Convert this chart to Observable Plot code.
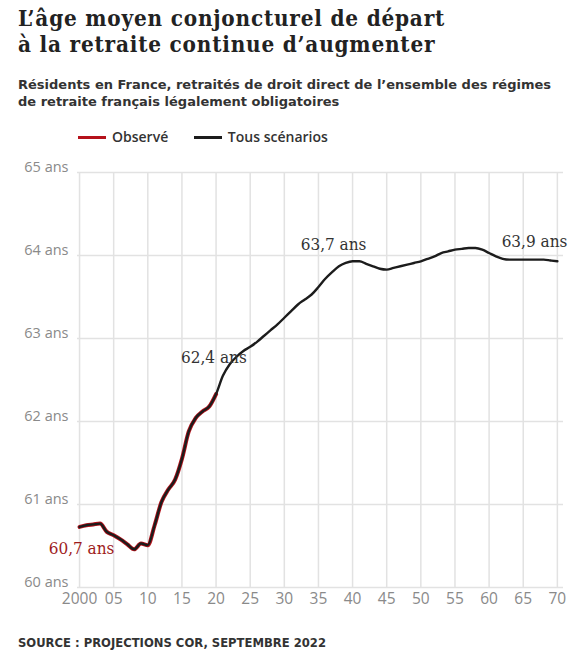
<!DOCTYPE html>
<html>
<head>
<meta charset="utf-8">
<script src="https://cdn.jsdelivr.net/npm/d3@7"></script>
<script src="https://cdn.jsdelivr.net/npm/@observablehq/plot@0.6"></script>
<style>
  body { margin: 0; background: #fff; }
  #page { position: relative; width: 575px; height: 659px; overflow: hidden; }
  .title { position: absolute; left: 18px; top: 5px; font: bold 22.3px/26px "DejaVu Serif Condensed", "DejaVu Serif", serif; letter-spacing: 0.8px; color: #222; }
  .subtitle { position: absolute; left: 18px; top: 76px; font: bold 13px/17px "DejaVu Sans", sans-serif; color: #333; }
  .legend { position: absolute; left: 78px; top: 128px; font: 600 14px/18px "Open Sans", sans-serif; color: #333; }
  .legend span.sw { display: inline-block; width: 28px; height: 3px; vertical-align: middle; margin-right: 6px; position: relative; top: -1px; }
  .legend span.item { margin-right: 22px; }
  #chart { position: absolute; left: 0; top: 150px; }
  .source { position: absolute; left: 18px; top: 636px; font: bold 11.6px/14px "DejaVu Sans", sans-serif; color: #333; }
</style>
</head>
<body>
<div id="page">
  <div class="title">L’âge moyen conjoncturel de départ<br>à la retraite continue d’augmenter</div>
  <div class="subtitle">Résidents en France, retraités de droit direct de l’ensemble des régimes<br>de retraite français légalement obligatoires</div>
  <div class="legend">
    <span class="item"><span class="sw" style="background:#b5121b"></span>Observé</span>
    <span class="item"><span class="sw" style="background:#1c1c1c"></span>Tous scénarios</span>
  </div>
  <div id="chart"></div>
  <div class="source">SOURCE : PROJECTIONS COR, SEPTEMBRE 2022</div>
</div>
<script>
// observé 2000-2020
const obsYears = d3.range(2000, 2021);
const obsValues = [60.73, 60.75, 60.76, 60.77, 60.67, 60.63, 60.58, 60.52, 60.46, 60.53,
  60.51, 60.75, 61.03, 61.18, 61.30, 61.55, 61.88, 62.04, 62.12, 62.18, 62.33];

// tous scénarios 2021-2070
const projYears = d3.range(2021, 2071);
const projValues = [62.55, 62.69, 62.78, 62.85, 62.90, 62.96, 63.03, 63.10, 63.17, 63.25,
  63.33, 63.41, 63.47, 63.53, 63.62, 63.72, 63.80, 63.87, 63.91, 63.93,
  63.93, 63.90, 63.87, 63.84, 63.83, 63.85, 63.87, 63.89, 63.91, 63.93,
  63.96, 63.99, 64.03, 64.05, 64.07, 64.08, 64.09, 64.09, 64.07, 64.03,
  63.99, 63.96, 63.95, 63.95, 63.95, 63.95, 63.95, 63.95, 63.94, 63.93];

const xTicks = d3.range(2000, 2071, 5);
const xTickLabels = ["2000", "05", "10", "15", "20", "25", "30", "35", "40", "45", "50", "55", "60", "65", "70"];
const yTicks = [60, 61, 62, 63, 64, 65];
const yTickLabels = ["60 ans", "61 ans", "62 ans", "63 ans", "64 ans", "65 ans"];

const annotYears = [2000, 2021, 2040, 2070];
const annotLabels = ["60,7 ans", "62,4 ans", "63,7 ans", "63,9 ans"];

const observed = obsYears.map((year, i) => ({year, value: obsValues[i]}));
const projected = projYears.map((year, i) => ({year, value: projValues[i]}));
const allYears = observed.concat(projected);
const valueAt = y => allYears.find(d => d.year === y).value;

// placement des étiquettes
const annotStyle = [
  {dx: 2, dy: 22, anchor: "middle", color: "#9e1b1b"},
  {dx: -9, dy: -18, anchor: "middle", color: "#333"},
  {dx: -19, dy: -17, anchor: "middle", color: "#333"},
  {dx: 10, dy: -20, anchor: "end", color: "#333"}
];

const annotMarks = annotYears.map((yr, i) => Plot.text([{year: yr, value: valueAt(yr), label: annotLabels[i]}], {
  x: "year", y: "value", text: "label",
  dx: annotStyle[i].dx, dy: annotStyle[i].dy,
  textAnchor: annotStyle[i].anchor,
  fill: annotStyle[i].color,
  fontSize: 17,
  fontFamily: "DejaVu Serif Condensed, DejaVu Serif, serif"
}));

const chart = Plot.plot({
  width: 575,
  height: 470,
  marginLeft: 77,
  marginRight: 12,
  marginTop: 22,
  marginBottom: 33,
  style: {fontFamily: "Open Sans, sans-serif", background: "transparent"},
  x: {domain: [1999.7, 2070.9], label: null},
  y: {domain: [60, 65], label: null},
  marks: [
    Plot.ruleY(yTicks, {stroke: "#e2e2e2", strokeWidth: 1.5}),
    Plot.ruleX(xTicks, {y1: yTicks[0], y2: yTicks[yTicks.length - 1], stroke: "#e2e2e2", strokeWidth: 1.5}),
    Plot.axisX({ticks: xTicks, tickFormat: (d, i) => xTickLabels[i], tickSize: 0, tickPadding: 5, fontSize: 15.5, color: "#8a8a8a", label: null}),
    Plot.axisY({ticks: yTicks, tickFormat: (d, i) => yTickLabels[i], tickSize: 0, tickPadding: 9, dy: -5, fontSize: 14.5, color: "#8a8a8a", label: null}),
    Plot.line(observed, {x: "year", y: "value", stroke: "#b5121b", strokeWidth: 4, curve: "monotone-x"}),
    Plot.line(allYears, {x: "year", y: "value", stroke: "#1c1c1c", strokeWidth: 2.4, curve: "monotone-x"}),
    ...annotMarks
  ]
});

d3.select("#chart").append(() => chart);
</script>
</body>
</html>
